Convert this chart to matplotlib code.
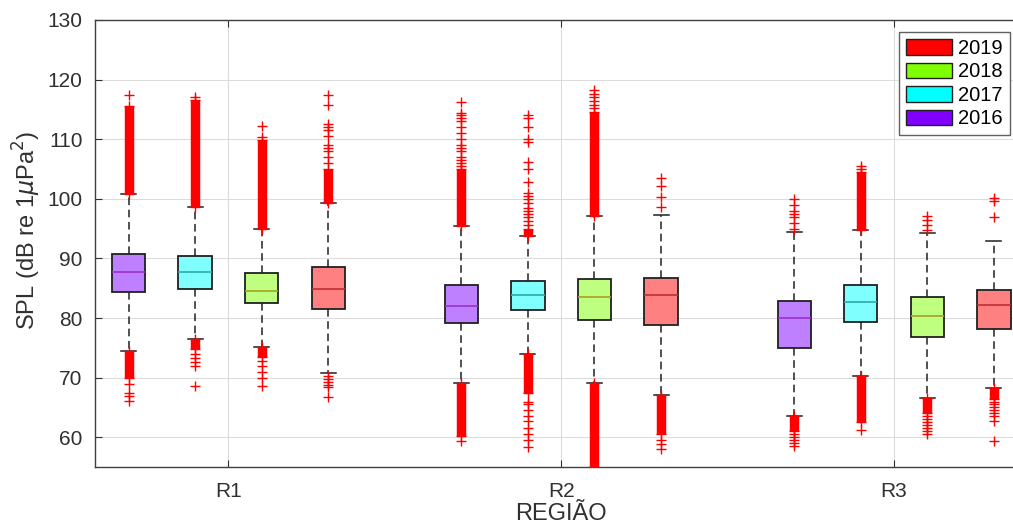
import matplotlib
matplotlib.use("Agg")
import matplotlib.pyplot as plt
from matplotlib.patches import Patch

plt.rcParams['font.family'] = ['Liberation Sans', 'DejaVu Sans']

regions = ['R1', 'R2', 'R3']
years = ['2016', '2017', '2018', '2019']

# box stats, order: R1(2016..2019), R2(...), R3(...)
q1 = [84.4, 84.9, 82.6, 81.5, 79.1, 81.3, 79.6, 78.9, 75.0, 79.4, 76.9, 78.1]
med = [87.7, 87.7, 84.6, 84.9, 82.1, 83.9, 83.5, 83.9, 80.0, 82.7, 80.4, 82.2]
q3 = [90.8, 90.35, 87.6, 88.5, 85.6, 86.2, 86.6, 86.7, 82.8, 85.6, 83.6, 84.7]
whislo = [74.4, 76.5, 75.1, 70.8, 69.1, 74.0, 69.1, 67.1, 63.6, 70.3, 66.6, 68.3]
whishi = [100.8, 98.6, 95.0, 99.3, 95.5, 93.7, 97.1, 97.3, 94.4, 94.8, 94.2, 93.0]

# dense outlier runs (lo, hi), None where there is none
band_hi = [(100.8, 115.5), (98.6, 116.5), (95.0, 109.8), (99.3, 105.0),
           (95.5, 105.0), (93.7, 95.0), (97.1, 114.6), None,
           None, (94.8, 104.5), None, None]
band_lo = [(70.0, 74.4), (74.8, 76.5), (73.5, 75.1), None,
           (60.2, 69.1), (67.5, 74.0), (55.0, 69.1), (60.5, 67.1),
           (61.0, 63.6), (62.5, 70.3), (64.0, 66.6), (66.5, 68.3)]

# single outliers
fliers = [
    [117.5, 69.0, 67.5, 66.9, 66.1],
    [117.0, 74.0, 73.3, 72.6, 72.0, 68.6],
    [110.3, 112.3, 72.8, 72.0, 71.0, 70.0, 68.6],
    [106.0, 107.0, 108.0, 108.5, 109.0, 110.5, 111.5, 112.0, 112.5, 115.7, 117.5,
     70.3, 69.8, 69.3, 68.8, 68.4, 66.8],
    [105.5, 106.0, 106.5, 107.0, 108.0, 108.5, 109.0, 110.0, 111.0, 112.0, 113.0,
     113.5, 114.0, 114.4, 116.3, 59.4],
    [95.6, 96.3, 97.0, 97.5, 98.0, 98.5, 99.3, 100.0, 100.5, 100.9, 102.9, 105.0,
     106.1, 109.6, 110.0, 112.0, 113.6, 114.0,
     66.0, 65.5, 64.5, 63.5, 62.8, 61.5, 60.5, 59.5, 58.3],
    [115.2, 115.8, 116.4, 117.0, 117.6, 118.2],
    [98.6, 100.3, 102.2, 103.5, 59.5, 58.8, 58.0],
    [95.0, 96.0, 97.0, 97.5, 98.0, 99.0, 100.0, 60.5, 60.0, 59.5, 59.0, 58.6],
    [105.0, 105.5, 61.3],
    [94.8, 95.6, 96.4, 97.1, 63.5, 63.0, 62.5, 62.0, 61.5, 61.0, 60.5],
    [96.9, 99.7, 100.1, 66.0, 65.5, 65.0, 64.5, 64.0, 63.5, 62.8, 59.3],
]

face_colors = ['#bf80ff', '#80ffff', '#bfff80', '#ff8080']
median_colors = ['#9a30d0', '#30a8a8', '#a8a020', '#c03030']
legend_colors = {'2019': '#ff0000', '2018': '#80ff00', '2017': '#00ffff', '2016': '#8000ff'}
offsets = [-0.3, -0.1, 0.1, 0.3]

positions = []
stats = []
for i in range(len(q1)):
    r, y = divmod(i, 4)
    positions.append(r + 1 + offsets[y])
    stats.append(dict(q1=q1[i], med=med[i], q3=q3[i], whislo=whislo[i],
                      whishi=whishi[i], fliers=fliers[i]))

fig = plt.figure(figsize=(10.13, 5.26), dpi=100)
ax = fig.add_axes([0.094, 0.112, 0.92, 0.85])

text_col = '#303030'

bp = ax.bxp(stats, positions=positions, widths=0.1, capwidths=0.045,
            patch_artist=True, manage_ticks=False,
            boxprops=dict(edgecolor='#202020', linewidth=1.3),
            whiskerprops=dict(color='#202020', linestyle=(0, (5, 3)), linewidth=1.1),
            capprops=dict(color='#202020', linewidth=1.1),
            medianprops=dict(linewidth=1.2),
            flierprops=dict(marker='+', markeredgecolor='red', markersize=7,
                            markeredgewidth=1.0, linestyle='none'))

for i, box in enumerate(bp['boxes']):
    box.set_facecolor(face_colors[i % 4])
    box.set_zorder(3)
for i, m in enumerate(bp['medians']):
    m.set_color(median_colors[i % 4])
    m.set_zorder(4)
for f in bp['fliers']:
    f.set_zorder(5)

for i, x in enumerate(positions):
    for band in (band_hi[i], band_lo[i]):
        if band is not None:
            ax.vlines(x, band[0], band[1], color='red', linewidth=6.8, zorder=5)
            ax.plot([x, x], list(band), marker='+', color='red', markersize=7,
                    linestyle='none', zorder=5)

ax.set_xlim(0.6, 3.4)
ax.set_ylim(55, 130)
ax.set_yticks(range(60, 131, 10))
ax.set_xticks([1, 2, 3])
ax.set_xticklabels(regions)
ax.grid(True, color='#dcdcdc', linewidth=0.8)
ax.set_axisbelow(True)
ax.tick_params(direction='in', length=5, top=True, right=True,
               labelsize=15, colors=text_col)
ax.tick_params(axis='x', pad=11)
ax.tick_params(axis='y', pad=9)
for s in ax.spines.values():
    s.set_color('#404040')
    s.set_linewidth(1.0)

ax.set_ylabel(r'SPL (dB re 1$\mu$Pa$^2$)', fontsize=17, color=text_col)
ax.yaxis.set_label_coords(-0.056, 0.53)
ax.set_xlabel('REGIÃO', fontsize=17, color=text_col, labelpad=1)

handles = [Patch(facecolor=legend_colors[y], edgecolor='#202020', label=y)
           for y in ['2019', '2018', '2017', '2016']]
fig.legend(handles=handles, loc='upper right', bbox_to_anchor=(1010 / 1013, 1 - 32 / 526),
           fontsize=14.5, frameon=True, fancybox=False, edgecolor='#606060',
           handlelength=2.3, handleheight=0.8, labelspacing=0.22,
           borderpad=0.35, handletextpad=0.3, borderaxespad=0.0, framealpha=1)

fig.savefig('out.png', dpi=100)
